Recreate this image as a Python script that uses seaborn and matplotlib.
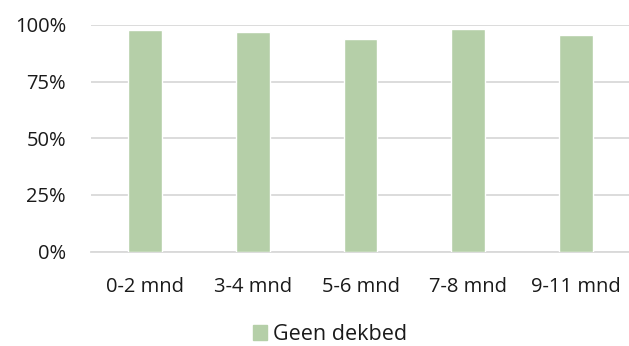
import matplotlib
matplotlib.use("Agg")
import matplotlib.pyplot as plt
import seaborn as sns
import pandas as pd
from matplotlib.ticker import PercentFormatter

# data
categories = ["0-2 mnd", "3-4 mnd", "5-6 mnd", "7-8 mnd", "9-11 mnd"]
geen_dekbed = [97.8, 97.0, 94.0, 98.2, 95.4]

df = pd.DataFrame({"leeftijd": categories, "pct": geen_dekbed, "serie": "Geen dekbed"})

sns.set_style("white")
plt.rcParams["font.family"] = ["Open Sans", "DejaVu Sans"]

fig = plt.figure(figsize=(6.29, 3.46), dpi=100)
ax = fig.add_axes([91 / 629, 1 - 251.5 / 346, 539 / 629, 226.5 / 346])

sns.barplot(data=df, x="leeftijd", y="pct", hue="serie", palette=["#B5CFA8"],
            width=0.315, saturation=1, ax=ax, zorder=3, legend=False)

ax.set_ylim(0, 100)
ax.set_yticks([0, 25, 50, 75, 100])
ax.yaxis.set_major_formatter(PercentFormatter(decimals=0))
ax.grid(axis="y", color="#D9D9D9", linewidth=1.3, zorder=0)
ax.set_xlabel("")
ax.set_ylabel("")
for s in ["top", "right", "left"]:
    ax.spines[s].set_visible(False)
ax.spines["bottom"].set_color("#D9D9D9")
ax.spines["bottom"].set_linewidth(1.3)
ax.tick_params(axis="both", length=0, labelsize=14.5, colors="#1a1a1a")
ax.tick_params(axis="x", pad=18)
ax.tick_params(axis="y", pad=18)

handle = plt.Rectangle((0, 0), 1, 1, color="#B5CFA8")
fig.legend([handle], ["Geen dekbed"], loc="center",
           bbox_to_anchor=(330 / 629, 1 - 334.5 / 346), frameon=False, fontsize=15.5,
           handlelength=0.65, handleheight=0.65, handletextpad=0.3,
           borderpad=0, labelcolor="#1a1a1a")

fig.savefig("out.png", dpi=100)
